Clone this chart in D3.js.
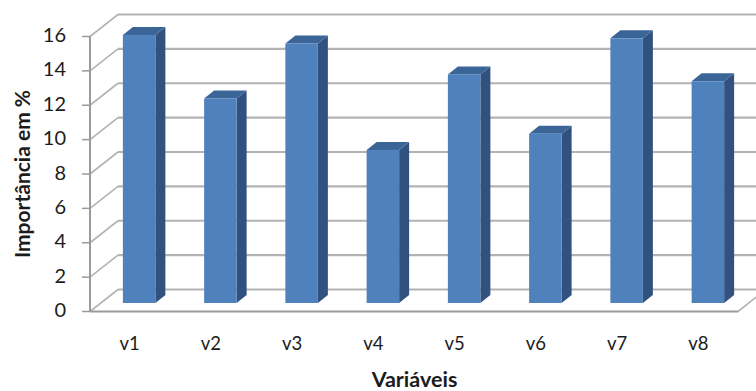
<!DOCTYPE html>
<html>
<head>
<meta charset="utf-8">
<script src="https://cdn.jsdelivr.net/npm/d3@7/dist/d3.min.js"></script>
<style>
html,body{margin:0;padding:0;background:#fff}
svg{display:block}
text{font-family:Lato,"Liberation Sans",sans-serif;fill:#1c1c1c}
</style>
</head>
<body>
<svg id="chart" width="756" height="391"></svg>
<script>
const categories = ["v1","v2","v3","v4","v5","v6","v7","v8"];
const importance = [15.6,11.9,15.1,8.9,13.3,9.85,15.4,12.9];
const yTicks = [0,2,4,6,8,10,12,14,16];
const xTitle = "Variáveis";
const yTitle = "Importância em %";

const width = 756, height = 391;
const svg = d3.select("#chart");

// Oblique projection of the 3D box
const wallDx = 28, wallDy = -22;
const barDx = 10, barDy = -8;
const baseDx = 13.5, baseDy = -8.5;

const y = d3.scaleLinear().domain([0,16]).range([311.5,36.5]);
const x = d3.scaleBand().domain(categories).range([85,735]).paddingInner(0.6).paddingOuter(0.3);
const floorRight = 738;

const gridColor = "#b3b3b3", axisColor = "#9a9a9a";

// Back wall gridlines, side wall diagonals and tick marks
const grid = svg.append("g");
yTicks.forEach(t => {
  const py = y(t);
  grid.append("line").attr("x1",90+wallDx).attr("x2",width)
    .attr("y1",py+wallDy).attr("y2",py+wallDy)
    .attr("stroke",gridColor).attr("stroke-width",2.2);
  grid.append("line").attr("x1",90).attr("x2",90+wallDx)
    .attr("y1",py).attr("y2",py+wallDy)
    .attr("stroke",gridColor).attr("stroke-width",1.6);
  grid.append("line").attr("x1",82).attr("x2",90)
    .attr("y1",py).attr("y2",py)
    .attr("stroke",axisColor).attr("stroke-width",1.5);
});

// Front edges of the floor and the vertical axis
grid.append("line").attr("x1",90).attr("x2",90)
  .attr("y1",y(16)).attr("y2",y(0)).attr("stroke",axisColor).attr("stroke-width",2);
grid.append("line").attr("x1",90).attr("x2",floorRight)
  .attr("y1",y(0)).attr("y2",y(0)).attr("stroke",axisColor).attr("stroke-width",2);
grid.append("line").attr("x1",floorRight).attr("x2",floorRight+wallDx)
  .attr("y1",y(0)).attr("y2",y(0)+wallDy).attr("stroke",gridColor).attr("stroke-width",1.6);

// Extruded bars
const unit = y(0)-y(1);
const baseY = y(0)+baseDy;
const bars = svg.append("g").selectAll("g")
  .data(categories.map((c,i)=>({c,v:importance[i]})))
  .join("g");

const left = d => x(d.c)+baseDx;
const right = d => left(d)+x.bandwidth();
const topY = d => baseY-d.v*unit;
const poly = pts => pts.map(p=>p.join(",")).join(" ");

bars.append("polygon").attr("fill","#31527f")
  .attr("points",d=>poly([[right(d),topY(d)],[right(d)+barDx,topY(d)+barDy],[right(d)+barDx,baseY+barDy],[right(d),baseY]]));
bars.append("polygon").attr("fill","#3b6597")
  .attr("points",d=>poly([[left(d),topY(d)],[left(d)+barDx,topY(d)+barDy],[right(d)+barDx,topY(d)+barDy],[right(d),topY(d)]]));
bars.append("rect").attr("fill","#4f81bd")
  .attr("x",left).attr("y",topY).attr("width",x.bandwidth()).attr("height",d=>baseY-topY(d));

// Value labels on the vertical axis
svg.append("g").selectAll("text").data(yTicks).join("text")
  .attr("x",66).attr("y",d=>y(d)+0.5).attr("text-anchor","end").attr("dominant-baseline","middle")
  .attr("font-size",20).text(d=>d);

// Category labels
svg.append("g").selectAll("text").data(categories).join("text")
  .attr("x",d=>x(d)+x.bandwidth()/2+4).attr("y",350)
  .attr("text-anchor","middle").attr("font-size",18.5).text(d=>d);

// Axis titles
svg.append("text").attr("x",414.5).attr("y",387).attr("text-anchor","middle")
  .attr("font-size",21.5).attr("font-weight","bold").text(xTitle);
svg.append("text").attr("transform","translate(29.5,174) rotate(-90)").attr("text-anchor","middle")
  .attr("font-size",21).attr("font-weight","bold").text(yTitle);
</script>
</body>
</html>
